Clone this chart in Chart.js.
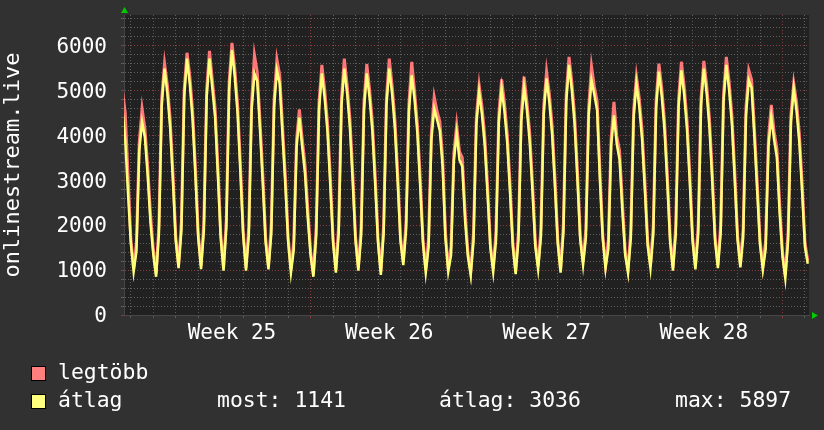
<!DOCTYPE html>
<html>
<head>
<meta charset="utf-8">
<script src="https://cdn.jsdelivr.net/npm/chart.js@4"></script>
<style>
  html, body { margin: 0; padding: 0; background: #313131; }
  #wrap { width: 824px; height: 430px; }
</style>
</head>
<body>
<div id="wrap"><canvas id="chart" width="824" height="430"></canvas></div>
<script>
// samples every 3 hours, hour 0 = Monday of week 25
const firstHour = -33;
const stepHours = 3;

const atlag = [
  4600, 3900, 2700,
  1600, 960, 1420, 3650, 4300, 3950, 3100, 2050,
  1350, 850, 1810, 4660, 5480, 4930, 4160, 2960,
  1640, 1040, 1880, 4850, 5700, 5130, 4330, 3080,
  1710, 1020, 1880, 4850, 5700, 5050, 4400, 3100,
  1710, 985, 1940, 5010, 5890, 5300, 4480, 3180,
  1770, 985, 1770, 4560, 5370, 5200, 4100, 2900,
  1610, 1015, 1800, 4620, 5440, 5150, 4000, 2900,
  1630, 940, 1450, 3730, 4390, 3740, 3150, 2150,
  1320, 850, 1770, 4560, 5370, 4830, 4080, 2900,
  1610, 940, 1810, 4660, 5480, 4930, 4160, 2960,
  1640, 985, 1770, 4560, 5370, 4830, 4080, 2900,
  1610, 890, 1810, 4660, 5480, 4930, 4160, 2960,
  1640, 1110, 1900, 4530, 5330, 4800, 4050, 2880,
  1600, 940, 1510, 3900, 4590, 4350, 4100, 3300,
  1700, 960, 1330, 3430, 4040, 3450, 3300, 2100,
  1300, 890, 1640, 4220, 4960, 4460, 3770, 2680,
  1490, 960, 1660, 4280, 5040, 4540, 3830, 2720,
  1510, 910, 1670, 4310, 5070, 4560, 3850, 2740,
  1520, 1015, 1740, 4470, 5260, 4730, 4000, 2840,
  1580, 940, 1830, 4730, 5560, 5000, 4230, 3000,
  1670, 1110, 1720, 4440, 5220, 4900, 4550, 3000,
  1700, 1040, 1470, 3770, 4440, 3800, 3450, 2300,
  1330, 940, 1700, 4380, 5150, 4640, 3910, 2780,
  1550, 1040, 1790, 4600, 5410, 4870, 4110, 2920,
  1620, 985, 1800, 4620, 5440, 4900, 4130, 2940,
  1630, 1015, 1810, 4660, 5480, 4930, 4160, 2960,
  1640, 1040, 1830, 4730, 5560, 5000, 4230, 3000,
  1670, 1060, 1720, 4440, 5220, 5050, 3950, 2750,
  1560, 1015, 1460, 3750, 4410, 3900, 3500, 2250,
  1300, 815, 1660, 4280, 5040, 4540, 3830, 2720,
  1510, 1141
];

const legtobb = [
  5000, 4500, 3100,
  1700, 1030, 1620, 3850, 4590, 4150, 3300, 2250,
  1450, 920, 2010, 4830, 5590, 5110, 4360, 3160,
  1740, 1110, 2080, 5020, 5830, 5310, 4530, 3280,
  1810, 1090, 2080, 5020, 5870, 5230, 4600, 3300,
  1810, 1055, 2140, 5180, 6050, 5480, 4680, 3380,
  1870, 1055, 1970, 4730, 5780, 5400, 4300, 3100,
  1710, 1085, 2000, 4790, 5680, 5330, 4200, 3100,
  1730, 1010, 1650, 3900, 4570, 3920, 3350, 2350,
  1420, 920, 1970, 4730, 5560, 5010, 4280, 3100,
  1710, 1010, 2010, 4830, 5700, 5110, 4360, 3160,
  1740, 1055, 1970, 4730, 5580, 5010, 4280, 3100,
  1710, 960, 2010, 4830, 5700, 5110, 4360, 3160,
  1740, 1180, 2100, 4700, 5630, 4980, 4250, 3080,
  1700, 1010, 1710, 4070, 4850, 4530, 4300, 3500,
  1850, 1030, 1530, 3600, 4220, 3630, 3500, 2300,
  1400, 960, 1840, 4390, 5110, 4640, 3970, 2880,
  1580, 1030, 1860, 4450, 5240, 4720, 4030, 2920,
  1620, 980, 1870, 4480, 5300, 4740, 4050, 2940,
  1640, 1085, 1940, 4640, 5410, 4910, 4200, 3040,
  1680, 1010, 2030, 4900, 5740, 5180, 4430, 3200,
  1770, 1180, 1920, 4610, 5530, 5080, 4750, 3200,
  1800, 1110, 1670, 3940, 4740, 3980, 3650, 2500,
  1430, 1010, 1900, 4550, 5300, 4820, 4110, 2980,
  1650, 1110, 1990, 4770, 5590, 5050, 4310, 3120,
  1720, 1055, 2000, 4790, 5630, 5080, 4330, 3140,
  1730, 1085, 2010, 4830, 5650, 5110, 4360, 3160,
  1740, 1110, 2030, 4900, 5740, 5180, 4430, 3200,
  1770, 1130, 1920, 4610, 5440, 5230, 4150, 2950,
  1660, 1085, 1660, 3920, 4670, 4080, 3700, 2450,
  1400, 885, 1860, 4450, 5150, 4720, 4030, 2920,
  1610, 1200
];

const weekLabels = ['Week 25', 'Week 26', 'Week 27', 'Week 28'];
const weekCenters = [84, 252, 420, 588];
const yLabels = [0, 1000, 2000, 3000, 4000, 5000, 6000];

const legendRows = [
  { name: 'legtöbb', color: '#ff7f7f', stats: [] },
  { name: 'átlag', color: '#ffff7f', stats: ['most: 1141', 'átlag: 3036', 'max: 5897'] }
];
const statX = [217, 439, 675];

const FONT = '"DejaVu Sans Mono", monospace';
const minorGrid = '#5e5e5e';
const majorGrid = '#8c3c3c';

function pts(arr) {
  return arr.map((v, i) => ({ x: firstHour + i * stepHours, y: v }));
}

function noPad(scale) {
  scale.paddingTop = 0;
  scale.paddingBottom = 0;
  scale.paddingLeft = 0;
  scale.paddingRight = 0;
}

const bgPlugin = {
  id: 'bg',
  beforeDraw(chart) {
    const { ctx, chartArea: a } = chart;
    ctx.save();
    ctx.fillStyle = '#212121';
    ctx.fillRect(a.left, a.top, a.right - a.left, a.bottom - a.top);
    ctx.restore();
  }
};

const extrasPlugin = {
  id: 'extras',
  afterDraw(chart) {
    const { ctx, chartArea: a } = chart;
    ctx.save();
    // axis arrows
    ctx.fillStyle = '#00cc00';
    ctx.beginPath();
    ctx.moveTo(a.left + 0.5, a.top - 8);
    ctx.lineTo(a.left - 3, a.top - 2);
    ctx.lineTo(a.left + 4, a.top - 2);
    ctx.fill();
    ctx.beginPath();
    ctx.moveTo(a.right + 9, a.bottom + 0.5);
    ctx.lineTo(a.right + 3, a.bottom - 3);
    ctx.lineTo(a.right + 3, a.bottom + 4);
    ctx.fill();

    // legend
    ctx.font = '21px ' + FONT;
    ctx.textBaseline = 'alphabetic';
    legendRows.forEach((row, r) => {
      const top = 366 + r * 28;
      ctx.fillStyle = row.color;
      ctx.fillRect(31, top, 15, 15);
      ctx.strokeStyle = '#000';
      ctx.lineWidth = 1;
      ctx.strokeRect(31.5, top + 0.5, 14, 14);
      const base = top + 13;
      const texts = [[58, row.name]].concat(row.stats.map((s, k) => [statX[k], s]));
      texts.forEach(([x, t]) => {
        ctx.save();
        ctx.translate(x, base);
        ctx.scale(1.02, 1);
        ctx.fillStyle = '#ffffff';
        ctx.fillText(t, 0, 0);
        ctx.restore();
      });
    });
    ctx.restore();
  }
};

new Chart(document.getElementById('chart'), {
  type: 'line',
  data: {
    datasets: [
      {
        label: 'átlag',
        data: pts(atlag),
        borderColor: '#ffff78',
        borderWidth: 2.5,
        pointRadius: 0,
        tension: 0,
        order: 1,
        clip: { left: 0, right: 0, top: 3, bottom: 3 }
      },
      {
        label: 'legtöbb',
        data: pts(legtobb),
        borderColor: '#ff7878',
        borderWidth: 3,
        pointRadius: 0,
        tension: 0,
        order: 2,
        clip: { left: 0, right: 0, top: 3, bottom: 3 }
      }
    ]
  },
  options: {
    responsive: false,
    animation: false,
    devicePixelRatio: 1,
    layout: { padding: { top: 15, right: 15, left: 0, bottom: 0 } },
    plugins: { legend: { display: false }, tooltip: { enabled: false } },
    scales: {
      x: {
        type: 'linear',
        min: -31.3,
        max: 700.3,
        afterFit(scale) { scale.height = 115; noPad(scale); },
        afterBuildTicks(scale) {
          const t = [];
          for (let h = -24; h <= 696; h += 12) t.push({ value: h });
          scale.ticks = t;
        },
        ticks: {
          autoSkip: false,
          maxRotation: 0,
          color: '#ffffff',
          font: { family: FONT, size: 21 },
          padding: 3,
          callback(v) {
            const i = weekCenters.indexOf(v);
            return i >= 0 ? weekLabels[i] : '';
          }
        },
        grid: {
          tickLength: 3,
          color(c) {
            const v = c.tick && c.tick.value;
            if (v % 168 === 0) return majorGrid;
            if (v % 24 === 0) return minorGrid;
            return 'rgba(0,0,0,0)';
          },
          tickColor(c) {
            const v = c.tick && c.tick.value;
            if (v % 168 === 0) return majorGrid;
            if (v % 24 === 0) return minorGrid;
            return 'rgba(0,0,0,0)';
          }
        },
        border: { display: true, color: '#474747', dash: [1, 2] }
      },
      y: {
        min: 0,
        max: 6670,
        afterFit(scale) { scale.width = 124; noPad(scale); },
        afterBuildTicks(scale) {
          const t = [];
          for (let v = 0; v <= 6600; v += 200) t.push({ value: v });
          scale.ticks = t;
        },
        ticks: {
          autoSkip: false,
          color: '#ffffff',
          font: { family: FONT, size: 21 },
          padding: 14,
          labelOffset: 2,
          callback(v) { return yLabels.includes(v) ? String(v) : ''; }
        },
        grid: {
          tickLength: 3,
          color(c) {
            const v = c.tick && c.tick.value;
            return v % 1000 === 0 ? majorGrid : minorGrid;
          },
          tickColor(c) {
            const v = c.tick && c.tick.value;
            return v % 1000 === 0 ? majorGrid : minorGrid;
          }
        },
        border: { display: true, color: '#474747', dash: [1, 2] },
        title: {
          display: true,
          text: 'onlinestream.live',
          color: '#ffffff',
          font: { family: FONT, size: 22 },
          padding: 0
        }
      }
    }
  },
  plugins: [bgPlugin, extrasPlugin]
});
</script>
</body>
</html>
